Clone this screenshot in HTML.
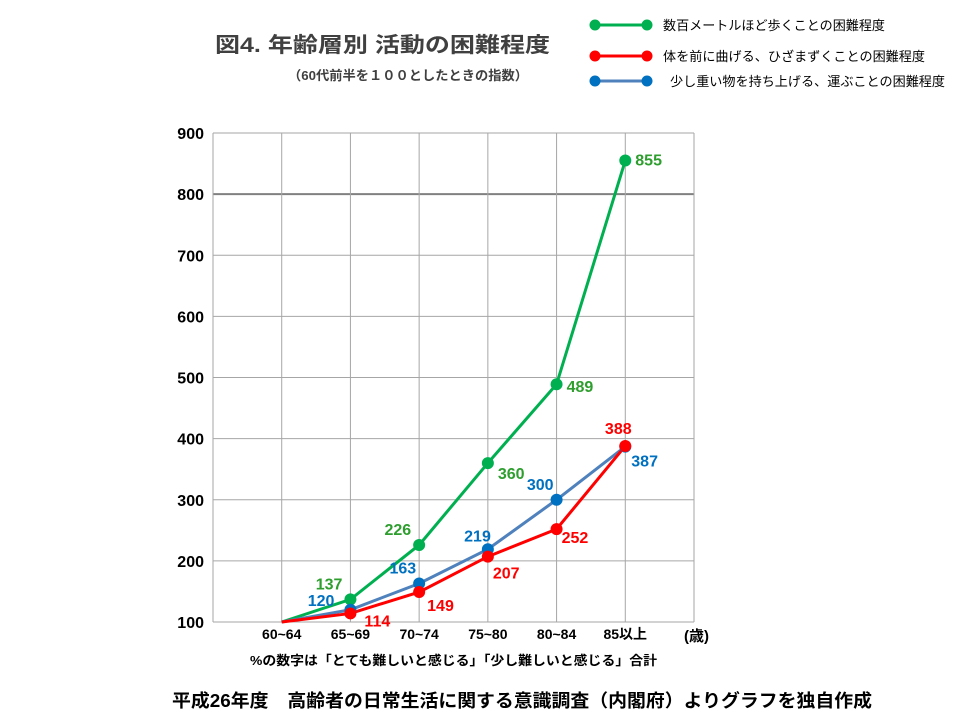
<!DOCTYPE html>
<html><head><meta charset="utf-8">
<style>
body{margin:0;background:#fff;}
svg{display:block;font-family:"Liberation Sans","Noto Sans CJK JP",sans-serif;}
</style></head>
<body>
<svg id="chart" width="960" height="720" viewBox="0 0 960 720">
<text x="215" y="52" font-size="21" font-weight="bold" fill="#404040" textLength="335" lengthAdjust="spacingAndGlyphs">図4.  年齢層別 活動の困難程度</text>
<text x="288" y="80" font-size="13" font-weight="bold" fill="#404040" textLength="240" lengthAdjust="spacingAndGlyphs">（60代前半を１００としたときの指数）</text>
<g id="grid"></g>
<g id="axes"></g>
<g id="series"></g>
<g id="legend"></g>
<text x="684" y="641" font-size="15" font-weight="bold" fill="#000">(歳)</text>
<text x="250" y="665" font-size="13" font-weight="bold" fill="#000" textLength="407" lengthAdjust="spacingAndGlyphs">%の数字は「とても難しいと感じる」「少し難しいと感じる」合計</text>
<text x="172" y="707" font-size="18" font-weight="bold" fill="#000" textLength="700" lengthAdjust="spacingAndGlyphs">平成26年度　高齢者の日常生活に関する意識調査（内閣府）よりグラフを独自作成</text>
</svg>
<script>
const categories = ["60~64","65~69","70~74","75~80","80~84","85以上"];
const walkValues = [100,137,226,360,489,855];
const bendValues = [100,114,149,207,252,388];
const liftValues = [100,120,163,219,300,387];
const yTicks = [100,200,300,400,500,600,700,800,900];
const seriesNames = ["数百メートルほど歩くことの困難程度","体を前に曲げる、ひざまずくことの困難程度","少し重い物を持ち上げる、運ぶことの困難程度"];

const NS="http://www.w3.org/2000/svg";
const L=213,R=694,T=133,B=622;
const colW=(R-L)/7;
function xPos(i){return L+colW*(i+1);}
function yPos(v){return B-(v-100)/(900-100)*(B-T);}
function mk(tag,attrs,parent){const e=document.createElementNS(NS,tag);for(const k in attrs)e.setAttribute(k,attrs[k]);parent.appendChild(e);return e;}

const grid=document.getElementById('grid');
const axes=document.getElementById('axes');
yTicks.forEach(v=>{
  const ln=mk('line',{x1:L,x2:R,y1:yPos(v),y2:yPos(v),stroke:v===800?'#808080':'#a6a6a6','stroke-width':v===800?2:1},grid);
  
  
  const t=mk('text',{x:204,y:yPos(v)+6,'text-anchor':'end','font-size':16,'font-weight':'bold',fill:'#000'},axes);
  t.textContent=v;
  
  
});
for(let i=0;i<=7;i++){
  const x=L+colW*i;
  const ln=mk('line',{x1:x,x2:x,y1:T,y2:B,stroke:'#a6a6a6','stroke-width':1},grid);
  
  
}
categories.forEach((c,i)=>{
  const t=mk('text',{x:xPos(i),y:639,'text-anchor':'middle','font-size':14,'font-weight':'bold',fill:'#000'},axes);
  t.textContent=c;
  
  
});

const seriesG=document.getElementById('series');
const defs=[
 {vals:walkValues,line:'#00b050',mark:'#00b050',lab:'#2e9e2e',name:'walk',off:[null,[-8,-10,'end'],[-8,-10,'end'],[10,16,'start'],[10,8,'start'],[10,5,'start']]},
 {vals:liftValues,line:'#4f81bd',mark:'#0070c0',lab:'#0070c0',name:'lift',off:[null,[-16,-4,'end'],[-3,-10,'end'],[3,-8,'end'],[-3,-10,'end'],[6,20,'start']]},
 {vals:bendValues,line:'#ff0000',mark:'#ff0000',lab:'#ff0000',name:'bend',off:[null,[14,13,'start'],[8,19,'start'],[5,22,'start'],[5,14,'start'],[-7,-12,'middle']]}
];
defs.forEach(d=>{
  const pts=d.vals.map((v,i)=>xPos(i)+','+yPos(v)).join(' ');
  const pl=mk('polyline',{points:pts,fill:'none',stroke:d.line,'stroke-width':3},seriesG);
  
  
});
defs.forEach(d=>{
  d.vals.forEach((v,i)=>{
    if(i===0)return;
    const c=mk('circle',{cx:xPos(i),cy:yPos(v),r:6,fill:d.mark},seriesG);
    
    
    const o=d.off[i];
    const t=mk('text',{x:xPos(i)+o[0],y:yPos(v)+o[1],'text-anchor':o[2],'font-size':16,'font-weight':'bold',fill:d.lab},seriesG);
    t.textContent=v;
    
    
  });
});

const lg=document.getElementById('legend');
const legCols=[['#00b050','#00b050'],['#ff0000','#ff0000'],['#4f81bd','#0070c0']];
const legY=[25,56,81];
const legX=[663,663,670];
const legW=[222,262,275];
seriesNames.forEach((n,i)=>{
  const g=mk('g',{},lg);
  
  
  mk('line',{x1:595,x2:647,y1:legY[i],y2:legY[i],stroke:legCols[i][0],'stroke-width':3},g);
  mk('circle',{cx:595,cy:legY[i],r:5.5,fill:legCols[i][1]},g);
  mk('circle',{cx:647,cy:legY[i],r:5.5,fill:legCols[i][1]},g);
  const t=mk('text',{x:legX[i],y:legY[i]+5,'font-size':13,fill:'#000',textLength:legW[i],lengthAdjust:'spacingAndGlyphs'},g);
  t.textContent=n;
});
</script>
</body></html>
